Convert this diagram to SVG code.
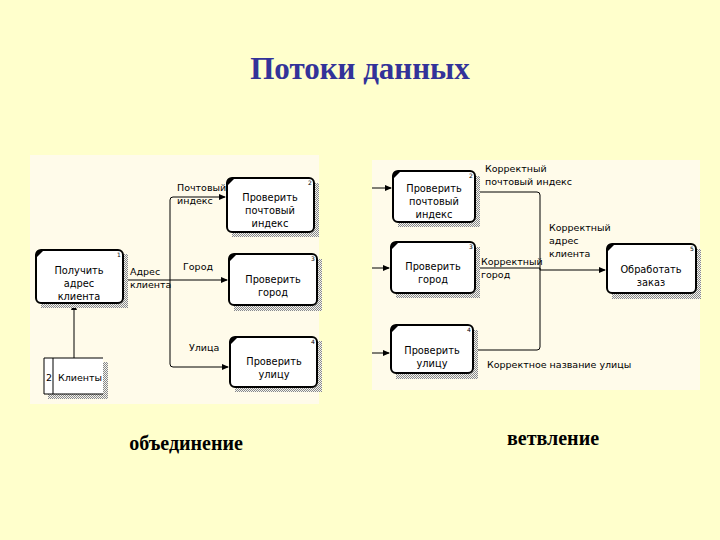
<svg xmlns="http://www.w3.org/2000/svg" width="720" height="540" viewBox="0 0 720 540">
<defs>
<style>
.title{font-family:"Liberation Serif",serif;font-weight:bold;font-size:31px;fill:#333399}
.cap{font-family:"Liberation Serif",serif;font-weight:bold;font-size:20px;fill:#000}
.nt{font-family:"DejaVu Sans",sans-serif;font-size:9.8px;fill:#000;text-anchor:middle}
.lb{font-family:"DejaVu Sans",sans-serif;font-size:9.5px;fill:#000}
.num{font-family:"DejaVu Sans",sans-serif;font-size:6px;fill:#000}
.box{fill:#fff;stroke:#000;stroke-width:2}
.sh{fill:url(#hatch)}
.ln{fill:none;stroke:#000;stroke-width:1}
</style>
<pattern id="hatch" width="2" height="2" patternUnits="userSpaceOnUse">
<rect width="2" height="2" fill="#f4f4f0"/>
<rect width="1" height="1" fill="#888"/>
<rect x="1" y="1" width="1" height="1" fill="#888"/>
</pattern>
<marker id="ar" markerWidth="7" markerHeight="6" refX="6" refY="3" orient="auto" markerUnits="userSpaceOnUse">
<path d="M0,0 L7,3 L0,6 Z" fill="#000"/>
</marker>
</defs>
<rect width="720" height="540" fill="#ffffcc"/>
<text class="title" x="360" y="79" text-anchor="middle">Потоки данных</text>

<rect x="30" y="155" width="289" height="249" fill="#fffbea"/>
<rect x="372" y="160" width="328" height="230" fill="#fffbea"/>

<g id="connectors">
<path class="ln" d="M74,358 V304" marker-end="url(#ar)"/>
<path class="ln" d="M123,280 H227" marker-end="url(#ar)"/>
<path class="ln" d="M170,280 V200 Q170,197 173,197 H225" marker-end="url(#ar)"/>
<path class="ln" d="M170,280 V364 Q170,367 173,367 H228" marker-end="url(#ar)"/>
<path class="ln" d="M372,188 H391" marker-end="url(#ar)"/>
<path class="ln" d="M372,268 H389" marker-end="url(#ar)"/>
<path class="ln" d="M372,353 H389" marker-end="url(#ar)"/>
<path class="ln" d="M475,192 H537 Q540,192 540,195 V347 Q540,350 537,350 H473"/>
<path class="ln" d="M475,268 H540 V270 H605" marker-end="url(#ar)"/>
</g>

<g id="labels">
<text class="lb" x="177" y="191">Почтовый</text>
<text class="lb" x="177" y="204">индекс</text>
<text class="lb" x="130" y="275">Адрес</text>
<text class="lb" x="130" y="288">клиента</text>
<text class="lb" x="183" y="270">Город</text>
<text class="lb" x="189" y="351">Улица</text>
<text class="lb" x="485" y="172">Корректный</text>
<text class="lb" x="485" y="185">почтовый индекс</text>
<text class="lb" x="549" y="231">Корректный</text>
<text class="lb" x="549" y="244">адрес</text>
<text class="lb" x="549" y="257">клиента</text>
<text class="lb" x="481" y="265">Корректный</text>
<text class="lb" x="481" y="278">город</text>
<text class="lb" x="487" y="368">Корректное название улицы</text>
</g>

<g id="n1">
<rect class="sh" x="41" y="254" width="87" height="54"/>
<rect class="box" x="36" y="250" width="87" height="53" rx="5"/>
<path d="M36,258 L36,254 Q36,250 40,250 L44,250 Z" fill="#000"/>
<text class="num" x="117" y="257">1</text>
<text class="nt" x="79" y="274">Получить</text>
<text class="nt" x="79" y="287">адрес</text>
<text class="nt" x="79" y="300">клиента</text>
</g>

<g id="store">
<rect class="sh" x="48" y="362" width="60" height="37"/>
<rect x="44" y="358" width="59" height="36" fill="#fff"/>
<path class="ln" d="M103,358 H44 V394 H103 M53,358 V394" stroke-width="2"/>
<text class="lb" x="46" y="381">2</text>
<text class="lb" x="58" y="381">Клиенты</text>
</g>

<g id="n2">
<rect class="sh" x="232" y="183" width="87" height="54"/>
<rect class="box" x="227" y="178" width="87" height="54" rx="5"/>
<path d="M227,186 L227,182 Q227,178 231,178 L235,178 Z" fill="#000"/>
<text class="num" x="308" y="185">2</text>
<text class="nt" x="270" y="201">Проверить</text>
<text class="nt" x="270" y="214">почтовый</text>
<text class="nt" x="270" y="227">индекс</text>
</g>

<g id="n3">
<rect class="sh" x="234" y="259" width="88" height="52"/>
<rect class="box" x="229" y="254" width="88" height="51" rx="5"/>
<path d="M229,262 L229,258 Q229,254 233,254 L237,254 Z" fill="#000"/>
<text class="num" x="311" y="261">3</text>
<text class="nt" x="273" y="283">Проверить</text>
<text class="nt" x="273" y="296">город</text>
</g>

<g id="n4">
<rect class="sh" x="235" y="341" width="87" height="51"/>
<rect class="box" x="230" y="337" width="87" height="50" rx="5"/>
<path d="M230,345 L230,341 Q230,337 234,337 L238,337 Z" fill="#000"/>
<text class="num" x="311" y="344">4</text>
<text class="nt" x="274" y="365">Проверить</text>
<text class="nt" x="274" y="378">улицу</text>
</g>

<g id="r1">
<rect class="sh" x="398" y="176" width="82" height="51"/>
<rect class="box" x="393" y="171" width="82" height="51" rx="5"/>
<path d="M393,179 L393,175 Q393,171 397,171 L401,171 Z" fill="#000"/>
<text class="num" x="469" y="178">2</text>
<text class="nt" x="434" y="192">Проверить</text>
<text class="nt" x="434" y="205">почтовый</text>
<text class="nt" x="434" y="218">индекс</text>
</g>

<g id="r2">
<rect class="sh" x="396" y="247" width="84" height="51"/>
<rect class="box" x="391" y="242" width="84" height="51" rx="5"/>
<path d="M391,250 L391,246 Q391,242 395,242 L399,242 Z" fill="#000"/>
<text class="num" x="469" y="249">3</text>
<text class="nt" x="433" y="270">Проверить</text>
<text class="nt" x="433" y="283">город</text>
</g>

<g id="r3">
<rect class="sh" x="396" y="330" width="82" height="49"/>
<rect class="box" x="391" y="325" width="82" height="48" rx="5"/>
<path d="M391,333 L391,329 Q391,325 395,325 L399,325 Z" fill="#000"/>
<text class="num" x="467" y="332">4</text>
<text class="nt" x="432" y="354">Проверить</text>
<text class="nt" x="432" y="367">улицу</text>
</g>

<g id="r4">
<rect class="sh" x="612" y="249" width="89" height="50"/>
<rect class="box" x="607" y="244" width="89" height="49" rx="5"/>
<path d="M607,252 L607,248 Q607,244 611,244 L615,244 Z" fill="#000"/>
<text class="num" x="690" y="251">5</text>
<text class="nt" x="651" y="273">Обработать</text>
<text class="nt" x="651" y="286">заказ</text>
</g>

<text class="cap" x="186" y="450" text-anchor="middle">объединение</text>
<text class="cap" x="553" y="445" text-anchor="middle">ветвление</text>
</svg>
